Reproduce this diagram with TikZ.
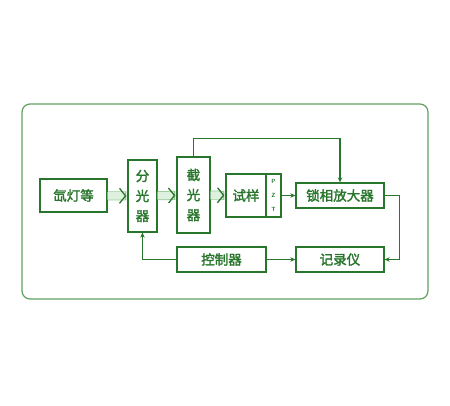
\documentclass[tikz,border=0pt]{standalone}
\usepackage{fontspec}
\usepackage{xcolor}
\usepackage{tikz}
\usetikzlibrary{arrows.meta,positioning,calc}
\newfontfamily\cjk{Noto Sans CJK SC}[FakeBold=2]
\definecolor{dkgreen}{RGB}{40,118,44}
\definecolor{frgreen}{RGB}{96,160,96}
\definecolor{shaftfill}{RGB}{222,240,222}
\definecolor{shaftline}{RGB}{150,200,150}

\begin{document}
\begin{tikzpicture}[
  x=1pt, y=-1pt,
  box/.style={rectangle, draw=dkgreen, line width=1.3pt, inner sep=0pt, align=center, font=\cjk\fontsize{13.5}{20}\selectfont, text=dkgreen},
  arr/.style={-{Stealth[length=5pt,width=4.5pt]}, draw=dkgreen, line width=1.1pt},
  shaft/.style={line width=7.5pt, draw=shaftfill, preaction={draw=shaftline, line width=9pt, -}, -{Straight Barb[length=6pt,width=15pt,line width=1.3pt,color=dkgreen]}, shorten >=1pt}
]
\useasboundingbox (0,0) rectangle (450,405);

% Frame
\draw[frgreen, line width=1.2pt, rounded corners=8pt] (22,104) rectangle (428,299);

% Optical path
\node[box, minimum width=67pt, minimum height=33pt] (lamp) at (73.5,195.5) {氙灯等};
\node[box, minimum width=29pt, minimum height=72pt] (split) at (142.5,196) {分\\光\\器};
\node[box, minimum width=33pt, minimum height=76pt] (chop) at (193.5,195) {截\\光\\器};
\node[box, minimum width=40pt, minimum height=43pt] (sample) at (246,195.5) {试样};
\node[box, minimum width=15pt, minimum height=43pt, font=\sffamily\bfseries\fontsize{6}{14}\selectfont] (pzt) at (273.5,195.5) {P\\Z\\T};
\draw[shaft] (lamp) -- (split);
\draw[shaft] (split) -- (chop);
\draw[shaft] (chop) -- (sample);

% Electronics
\node[box, minimum width=88pt, minimum height=25pt] (lockin) at (340,195.5) {锁相放大器};
\node[box, minimum width=88pt, minimum height=25pt] (recorder) at (340,259.5) {记录仪};
\node[box, minimum width=89pt, minimum height=25pt] (ctrl) at (221.5,259.5) {控制器};

% Signal lines
\draw[arr] (pzt) -- (lockin);
\draw[arr] (chop.north) -- ++(0,-18) -| (lockin.north);
\draw[arr] (lockin.east) -- ++(15,0) |- (recorder.east);
\draw[arr] (ctrl) -- (recorder);
\draw[arr] (ctrl.west) -| (split.south);

\end{tikzpicture}
\end{document}
